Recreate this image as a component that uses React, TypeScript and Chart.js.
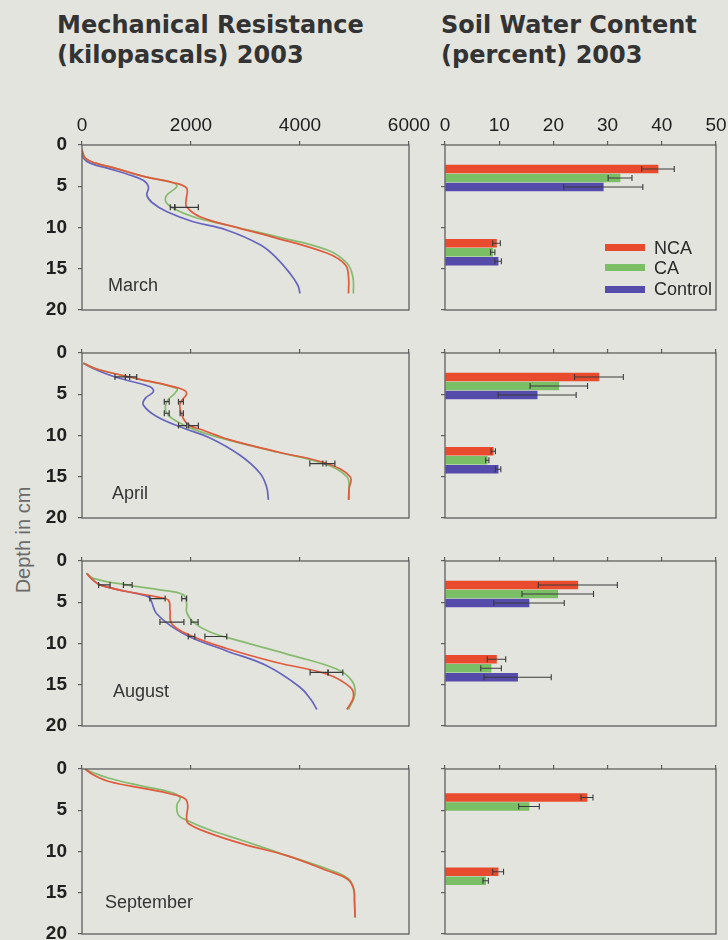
import React, { useEffect, useRef } from "react";
import { Chart, registerables } from "chart.js";

Chart.register(...registerables);

// ---------------- data ----------------
const months = ["March", "April", "August", "September"];
const seriesNames = ["NCA", "CA", "Control"];
const depthTicks = [0, 5, 10, 15, 20];
const resistanceTicks = [0, 2000, 4000, 6000];
const waterTicks = [0, 10, 20, 30, 40, 50];
const waterGroupDepths = [4, 13];

// Mechanical resistance (kPa) profiles vs depth (cm)
const marchNcaDepth = [0.6, 1.6, 2.2, 2.8, 3.8, 4.6, 5.25, 6.7, 7.5, 8.7, 9.9, 11.1, 13.1, 14.5, 16.0, 18.0];
const marchNcaKpa = [0, 60, 250, 600, 1125, 1700, 1920, 1910, 1920, 2165, 2780, 3470, 4490, 4830, 4890, 4890];
const marchCaDepth = [0.6, 1.6, 2.2, 2.8, 3.8, 4.6, 5.05, 6.1, 6.9, 7.7, 8.7, 9.7, 11.1, 12.7, 14.3, 16.0, 18.0];
const marchCaKpa = [0, 60, 250, 600, 1125, 1680, 1740, 1555, 1540, 1680, 2040, 2650, 3570, 4490, 4860, 4970, 4980];
const marchCtlDepth = [0.6, 1.6, 2.2, 2.9, 3.6, 4.3, 5.1, 6.1, 7.0, 8.1, 9.3, 10.3, 12.1, 13.7, 15.6, 17.0, 18.0];
const marchCtlKpa = [0, 30, 150, 510, 860, 1130, 1220, 1190, 1290, 1560, 2040, 2650, 3270, 3570, 3820, 3960, 4000];

const aprilNcaDepth = [1.25, 2.0, 3.1, 4.3, 4.9, 6.1, 7.5, 8.7, 9.3, 10.5, 12.0, 13.4, 15.0, 16.5, 17.8];
const aprilNcaKpa = [24, 300, 1000, 1800, 1920, 1800, 1830, 1950, 2200, 2700, 3600, 4490, 4920, 4900, 4890];
const aprilCaDepth = [1.25, 2.0, 3.1, 4.3, 4.9, 5.9, 7.3, 8.6, 9.5, 10.5, 12.0, 13.4, 15.0, 16.5, 17.8];
const aprilCaKpa = [24, 300, 1000, 1740, 1700, 1555, 1555, 1830, 2150, 2655, 3570, 4430, 4860, 4900, 4900];
const aprilCtlDepth = [1.25, 2.0, 2.7, 3.3, 4.1, 4.7, 5.5, 6.3, 7.7, 9.1, 10.3, 12.4, 14.6, 16.3, 17.8];
const aprilCtlKpa = [24, 250, 514, 820, 1250, 1310, 1160, 1125, 1370, 1860, 2350, 2900, 3270, 3390, 3420];

const augustNcaDepth = [1.5, 2.3, 2.9, 3.7, 4.35, 4.75, 6.0, 7.6, 9.0, 10.6, 12.3, 13.7, 15.3, 16.5, 18.0];
const augustNcaKpa = [86, 200, 330, 820, 1370, 1585, 1615, 1646, 1980, 2655, 3570, 4490, 4920, 4980, 4860];
const augustCaDepth = [1.5, 2.1, 2.9, 3.5, 4.1, 5.2, 6.2, 7.4, 8.6, 9.8, 11.5, 13.1, 14.5, 16.1, 18.0];
const augustCaKpa = [86, 207, 820, 1430, 1860, 1920, 1920, 2040, 2350, 2960, 3880, 4670, 4950, 5010, 4890];
const augustCtlDepth = [1.5, 2.3, 2.9, 3.7, 4.35, 5.0, 5.6, 6.4, 7.8, 9.2, 10.9, 12.7, 15.3, 16.8, 18.0];
const augustCtlKpa = [86, 200, 330, 820, 1220, 1280, 1310, 1370, 1615, 1980, 2655, 3390, 4000, 4200, 4310];

const septemberNcaDepth = [0, 0.7, 1.55, 2.35, 3.0, 3.6, 4.4, 5.8, 6.6, 7.8, 9.1, 10.5, 12.3, 13.3, 14.4, 16.0, 18.0];
const septemberNcaKpa = [55, 207, 514, 1125, 1615, 1890, 1940, 1920, 1950, 2350, 2960, 3760, 4490, 4860, 4980, 5000, 5010];
const septemberCaDepth = [0, 0.45, 1.15, 2.1, 2.8, 3.45, 4.4, 5.6, 6.2, 7.4, 8.7, 10.5, 12.1, 13.3, 14.8, 16.0, 18.0];
const septemberCaKpa = [55, 207, 514, 1125, 1615, 1800, 1740, 1770, 1920, 2350, 2960, 3760, 4490, 4890, 4990, 5000, 5010];

// horizontal error bars on the resistance profiles
const marchErrDepth = [7.55, 7.55];
const marchErrCenter = [1660, 1920];
const marchErrHalf = [40, 215];
const aprilErrDepth = [2.9, 2.9, 5.9, 5.9, 7.3, 7.3, 8.8, 8.8, 13.4, 13.4];
const aprilErrCenter = [740, 900, 1555, 1815, 1555, 1830, 1845, 2045, 4330, 4530];
const aprilErrHalf = [135, 105, 45, 45, 45, 30, 75, 90, 150, 110];
const augustErrDepth = [2.9, 2.9, 4.55, 4.55, 7.4, 7.4, 9.15, 9.15, 13.5, 13.5];
const augustErrCenter = [410, 840, 1385, 1875, 1650, 2065, 2010, 2456, 4350, 4650];
const augustErrHalf = [105, 80, 140, 45, 220, 65, 60, 200, 165, 135];
const septemberErrDepth: number[] = [];
const septemberErrCenter: number[] = [];
const septemberErrHalf: number[] = [];

// Soil water content (percent) at the two depth groups
const marchWaterNca = [39.3, 9.5];
const marchWaterCa = [32.3, 8.8];
const marchWaterCtl = [29.2, 9.8];
const marchWaterNcaErr = [3.0, 0.7];
const marchWaterCaErr = [2.2, 0.4];
const marchWaterCtlErr = [7.3, 0.6];

const aprilWaterNca = [28.4, 8.9];
const aprilWaterCa = [21.0, 7.8];
const aprilWaterCtl = [17.0, 9.8];
const aprilWaterNcaErr = [4.5, 0.4];
const aprilWaterCaErr = [5.3, 0.3];
const aprilWaterCtlErr = [7.2, 0.5];

const augustWaterNca = [24.5, 9.5];
const augustWaterCa = [20.8, 8.5];
const augustWaterCtl = [15.5, 13.4];
const augustWaterNcaErr = [7.3, 1.7];
const augustWaterCaErr = [6.6, 1.9];
const augustWaterCtlErr = [6.5, 6.2];

const septemberWaterNca = [26.2, 9.8];
const septemberWaterCa = [15.5, 7.5];
const septemberWaterNcaErr = [1.1, 1.0];
const septemberWaterCaErr = [1.9, 0.5];

// ---------------- assembled tables ----------------
type Line = { depth: number[]; kpa: number[] };
type Panel = {
  lines: Line[];
  err: { depth: number[]; center: number[]; half: number[] };
  water: number[][];
  waterErr: number[][];
};

const panels: Panel[] = [
  {
    lines: [
      { depth: marchNcaDepth, kpa: marchNcaKpa },
      { depth: marchCaDepth, kpa: marchCaKpa },
      { depth: marchCtlDepth, kpa: marchCtlKpa },
    ],
    err: { depth: marchErrDepth, center: marchErrCenter, half: marchErrHalf },
    water: [marchWaterNca, marchWaterCa, marchWaterCtl],
    waterErr: [marchWaterNcaErr, marchWaterCaErr, marchWaterCtlErr],
  },
  {
    lines: [
      { depth: aprilNcaDepth, kpa: aprilNcaKpa },
      { depth: aprilCaDepth, kpa: aprilCaKpa },
      { depth: aprilCtlDepth, kpa: aprilCtlKpa },
    ],
    err: { depth: aprilErrDepth, center: aprilErrCenter, half: aprilErrHalf },
    water: [aprilWaterNca, aprilWaterCa, aprilWaterCtl],
    waterErr: [aprilWaterNcaErr, aprilWaterCaErr, aprilWaterCtlErr],
  },
  {
    lines: [
      { depth: augustNcaDepth, kpa: augustNcaKpa },
      { depth: augustCaDepth, kpa: augustCaKpa },
      { depth: augustCtlDepth, kpa: augustCtlKpa },
    ],
    err: { depth: augustErrDepth, center: augustErrCenter, half: augustErrHalf },
    water: [augustWaterNca, augustWaterCa, augustWaterCtl],
    waterErr: [augustWaterNcaErr, augustWaterCaErr, augustWaterCtlErr],
  },
  {
    lines: [
      { depth: septemberNcaDepth, kpa: septemberNcaKpa },
      { depth: septemberCaDepth, kpa: septemberCaKpa },
    ],
    err: { depth: septemberErrDepth, center: septemberErrCenter, half: septemberErrHalf },
    water: [septemberWaterNca, septemberWaterCa],
    waterErr: [septemberWaterNcaErr, septemberWaterCaErr],
  },
];

// ---------------- style / layout ----------------
const FONT = "'Liberation Sans', Arial, Helvetica, sans-serif";
const TITLE_FONT = "'DejaVu Sans', 'Liberation Sans', sans-serif";
const BG = "#e4e4df";
const AXIS = "#5e5e5e";
const TEXT = "#202020";
const lineColors = ["#e05a3c", "#86ba6e", "#6664be"];
const barColors = ["#e84b2d", "#7abf66", "#554baa"];

const PANEL_TOPS = [145, 353, 561, 769];
const CANVAS_TOP_OFFSET = 40;
const CANVAS_H = 215;
const LEFT_CANVAS_X = 30;
const LEFT_CANVAS_W = 410;
const RIGHT_CANVAS_X = 400;
const RIGHT_CANVAS_W = 328;
const MONTH_LABEL_POS = [
  [108, 140],
  [112, 140],
  [113, 130],
  [105, 133],
];

Chart.defaults.font.family = FONT;

function fitBox(w?: number, h?: number) {
  return (scale: any) => {
    if (w !== undefined) scale.width = w;
    if (h !== undefined) scale.height = h;
    scale.paddingLeft = 0;
    scale.paddingRight = 0;
    scale.paddingTop = 0;
    scale.paddingBottom = 0;
  };
}

const framePlugin = {
  id: "frame",
  afterDraw(chart: any) {
    const { ctx, chartArea: a } = chart;
    ctx.save();
    ctx.strokeStyle = AXIS;
    ctx.lineWidth = 1.3;
    ctx.strokeRect(a.left, a.top, a.right - a.left, a.bottom - a.top);
    ctx.restore();
  },
};

function drawErr(ctx: CanvasRenderingContext2D, x1: number, x2: number, y: number) {
  ctx.beginPath();
  ctx.moveTo(x1, y);
  ctx.lineTo(x2, y);
  ctx.moveTo(x1, y - 3);
  ctx.lineTo(x1, y + 3);
  ctx.moveTo(x2, y - 3);
  ctx.lineTo(x2, y + 3);
  ctx.stroke();
}

function axisCommon(tickValues: number[], showLabels: boolean, padding: number, weight: string) {
  return {
    afterBuildTicks: (s: any) => {
      s.ticks = tickValues.map((v) => ({ value: v }));
    },
    ticks: {
      display: showLabels,
      padding,
      color: TEXT,
      font: { size: 19, family: FONT, weight },
      autoSkip: false,
      maxRotation: 0,
      callback: (v: any) => String(v),
    },
    grid: { drawOnChartArea: false, drawTicks: true, tickLength: 4, color: AXIS, lineWidth: 1.2, offset: false },
    border: { display: false },
    offset: false,
  };
}

function ResistanceChart({ panel, index }: { panel: Panel; index: number }) {
  const ref = useRef<HTMLCanvasElement>(null);
  useEffect(() => {
    const datasets = panel.lines.map((ln, i) => ({
      label: seriesNames[i],
      data: ln.depth.map((d, k) => ({ x: ln.kpa[k], y: d })),
      showLine: true,
      borderColor: lineColors[i],
      backgroundColor: lineColors[i],
      borderWidth: 1.7,
      pointRadius: 0,
      tension: 0.4,
      fill: false,
    }));
    const errPlugin = {
      id: "lineErr",
      afterDatasetsDraw(chart: any) {
        const { ctx } = chart;
        const xs = chart.scales.x;
        const ys = chart.scales.y;
        ctx.save();
        ctx.strokeStyle = "#3a3a3a";
        ctx.lineWidth = 1.2;
        panel.err.depth.forEach((d, k) => {
          const c = panel.err.center[k];
          const h = panel.err.half[k];
          drawErr(ctx, xs.getPixelForValue(c - h), xs.getPixelForValue(c + h), ys.getPixelForValue(d));
        });
        ctx.restore();
      },
    };
    const chart = new Chart(ref.current as HTMLCanvasElement, {
      type: "scatter",
      data: { datasets } as any,
      options: {
        responsive: false,
        animation: false,
        events: [],
        layout: { padding: { left: 0, top: 0, right: LEFT_CANVAS_W - (409 - LEFT_CANVAS_X), bottom: 10 } },
        plugins: { legend: { display: false }, tooltip: { enabled: false } },
        scales: {
          x: {
            type: "linear",
            position: "top",
            min: 0,
            max: 6000,
            afterFit: fitBox(undefined, CANVAS_TOP_OFFSET),
            ...axisCommon(resistanceTicks, index === 0, 4, "normal"),
          },
          y: {
            type: "linear",
            position: "left",
            min: 0,
            max: 20,
            reverse: true,
            afterFit: fitBox(82 - LEFT_CANVAS_X, undefined),
            ...axisCommon(depthTicks, true, 11, "bold"),
          },
        },
      } as any,
      plugins: [framePlugin, errPlugin],
    });
    return () => chart.destroy();
  }, []);
  return (
    <canvas
      ref={ref}
      width={LEFT_CANVAS_W}
      height={CANVAS_H}
      style={{
        position: "absolute",
        left: LEFT_CANVAS_X,
        top: PANEL_TOPS[index] - CANVAS_TOP_OFFSET,
        width: LEFT_CANVAS_W,
        height: CANVAS_H,
      }}
    />
  );
}

function WaterChart({ panel, index }: { panel: Panel; index: number }) {
  const ref = useRef<HTMLCanvasElement>(null);
  useEffect(() => {
    const datasets = panel.water.map((vals, i) => ({
      label: seriesNames[i],
      data: vals.map((v, k) => ({ x: v, y: waterGroupDepths[k] })),
      backgroundColor: barColors[i],
      borderWidth: 0,
      barThickness: 9,
      maxBarThickness: 8,
    }));
    const errPlugin = {
      id: "barErr",
      afterDatasetsDraw(chart: any) {
        const { ctx } = chart;
        const xs = chart.scales.x;
        ctx.save();
        ctx.strokeStyle = "#3a3a3a";
        ctx.lineWidth = 1.1;
        panel.water.forEach((vals, i) => {
          const meta = chart.getDatasetMeta(i);
          vals.forEach((v, k) => {
            const el = meta.data[k];
            const e = panel.waterErr[i][k];
            drawErr(ctx, xs.getPixelForValue(v - e), xs.getPixelForValue(v + e), el.y);
          });
        });
        ctx.restore();
      },
    };
    const chart = new Chart(ref.current as HTMLCanvasElement, {
      type: "bar",
      data: { datasets } as any,
      options: {
        indexAxis: "y",
        responsive: false,
        animation: false,
        events: [],
        layout: { padding: { left: 0, top: 0, right: RIGHT_CANVAS_W - (716 - RIGHT_CANVAS_X), bottom: 10 } },
        plugins: { legend: { display: false }, tooltip: { enabled: false } },
        scales: {
          x: {
            type: "linear",
            position: "top",
            min: 0,
            max: 50,
            afterFit: fitBox(undefined, CANVAS_TOP_OFFSET),
            ...axisCommon(waterTicks, index === 0, 4, "normal"),
          },
          y: {
            type: "linear",
            position: "left",
            min: 0,
            max: 20,
            reverse: true,
            afterFit: fitBox(445 - RIGHT_CANVAS_X, undefined),
            ...axisCommon(depthTicks, false, 4, "normal"),
          },
        },
      } as any,
      plugins: [framePlugin, errPlugin],
    });
    return () => chart.destroy();
  }, []);
  return (
    <canvas
      ref={ref}
      width={RIGHT_CANVAS_W}
      height={CANVAS_H}
      style={{
        position: "absolute",
        left: RIGHT_CANVAS_X,
        top: PANEL_TOPS[index] - CANVAS_TOP_OFFSET,
        width: RIGHT_CANVAS_W,
        height: CANVAS_H,
      }}
    />
  );
}

const titleStyle: React.CSSProperties = {
  position: "absolute",
  top: 10,
  fontFamily: TITLE_FONT,
  fontWeight: 700,
  fontSize: 24,
  lineHeight: "30px",
  color: "#333333",
  whiteSpace: "nowrap",
};

export default function App() {
  const legendCenters = [247.5, 267.5, 289];
  return (
    <div
      style={{
        position: "absolute",
        left: 0,
        top: 0,
        width: 728,
        height: 940,
        background: BG,
        overflow: "hidden",
        fontFamily: FONT,
      }}
    >
      <div style={{ ...titleStyle, left: 57 }}>
        Mechanical Resistance
        <br />
        (kilopascals) 2003
      </div>
      <div style={{ ...titleStyle, left: 441 }}>
        Soil Water Content
        <br />
        (percent) 2003
      </div>
      <div
        style={{
          position: "absolute",
          left: 23 - 75,
          top: 540 - 12,
          width: 150,
          height: 24,
          lineHeight: "24px",
          textAlign: "center",
          fontSize: 20,
          color: "#6a6a6a",
          transform: "rotate(-90deg)",
          whiteSpace: "nowrap",
        }}
      >
        Depth in cm
      </div>
      {panels.map((p, i) => (
        <React.Fragment key={months[i]}>
          <ResistanceChart panel={p} index={i} />
          <WaterChart panel={p} index={i} />
          <div
            style={{
              position: "absolute",
              left: MONTH_LABEL_POS[i][0],
              top: PANEL_TOPS[i] + MONTH_LABEL_POS[i][1] - 10,
              fontSize: 18,
              lineHeight: "20px",
              color: "#333333",
            }}
          >
            {months[i]}
          </div>
        </React.Fragment>
      ))}
      {seriesNames.map((name, i) => (
        <React.Fragment key={name}>
          <div
            style={{
              position: "absolute",
              left: 605,
              top: legendCenters[i] - 3.5,
              width: 40,
              height: 7,
              background: barColors[i],
            }}
          />
          <div
            style={{
              position: "absolute",
              left: 654,
              top: legendCenters[i] - 10,
              fontSize: 18,
              lineHeight: "20px",
              color: "#2a2a2a",
              whiteSpace: "nowrap",
            }}
          >
            {name}
          </div>
        </React.Fragment>
      ))}
    </div>
  );
}
